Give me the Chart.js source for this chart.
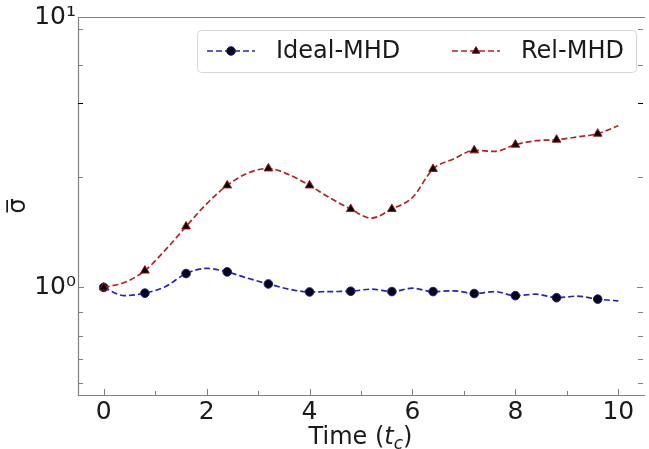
<!DOCTYPE html>
<html>
<head>
<meta charset="utf-8">
<script src="https://cdn.jsdelivr.net/npm/chart.js@4.4.1/dist/chart.umd.min.js"></script>
<style>
  html, body { margin: 0; padding: 0; background: #fff; }
  #wrap { width: 649px; height: 449px; }
</style>
</head>
<body>
<div id="wrap"><canvas id="myChart" width="649" height="449"></canvas></div>
<script>
// values
const times = [0, 0.4, 0.8, 1.2, 1.6, 2, 2.4, 2.8, 3.2, 3.6, 4, 4.4, 4.8, 5.2, 5.6, 6, 6.4, 6.8, 7.2, 7.6, 8, 8.4, 8.8, 9.2, 9.6, 10];
const idealMhd = [1.0, 0.932, 0.952, 1.007, 1.125, 1.176, 1.141, 1.081, 1.030, 0.985, 0.962, 0.965, 0.968, 0.985, 0.965, 0.993, 0.965, 0.971, 0.949, 0.965, 0.932, 0.944, 0.916, 0.928, 0.905, 0.891];
const relMhd = [1.0, 1.042, 1.154, 1.377, 1.680, 2.038, 2.383, 2.648, 2.754, 2.61, 2.383, 2.14, 1.948, 1.804, 1.948, 2.15, 2.741, 2.985, 3.212, 3.184, 3.372, 3.488, 3.518, 3.600, 3.703, 3.963];
const markerTimes = [0, 0.8, 1.6, 2.4, 3.2, 4, 4.8, 5.6, 6.4, 7.2, 8, 8.8, 9.6];
const xTickValues = [0, 1, 2, 3, 4, 5, 6, 7, 8, 9, 10];
const yTickValues = [0.442, 0.542, 0.661, 0.814, 1, 2.56, 4.81, 6.62, 9.03, 10];
const yTickLabels = { 1: '10\u2070', 10: '10\u00b9' };

const FONT = '"DejaVu Sans", sans-serif';

function toPoints(vals) {
  return times.map((t, i) => ({ x: t, y: vals[i] }));
}
function markerRadius(r) {
  return ctx => markerTimes.includes(times[ctx.dataIndex]) ? r : 0;
}

// axes spines, inward ticks, legend and titles (matplotlib look)
const decor = {
  id: 'decor',
  afterDraw(chart) {
    const ctx = chart.ctx;
    const a = chart.chartArea;
    const xs = chart.scales.x, ys = chart.scales.y;
    ctx.save();
    ctx.strokeStyle = '#808080';
    ctx.lineWidth = 1.2;
    ctx.beginPath();
    ctx.moveTo(a.left + 0.5, a.top + 0.5);
    ctx.lineTo(a.left + 0.5, a.bottom + 0.5);
    ctx.lineTo(a.right + 2, a.bottom + 0.5);
    ctx.moveTo(a.left, a.top + 0.5);
    ctx.lineTo(a.right + 2, a.top + 0.5);
    ctx.stroke();

    ctx.lineWidth = 1;
    xs.ticks.forEach(t => {
      const px = Math.round(xs.getPixelForValue(t.value)) + 0.5;
      const len = t.value % 2 === 0 ? 6 : 4;
      ctx.beginPath();
      ctx.moveTo(px, a.bottom);
      ctx.lineTo(px, a.bottom - len);
      ctx.stroke();
    });
    ys.ticks.forEach(t => {
      const py = Math.round(ys.getPixelForValue(t.value)) + 0.5;
      const len = (t.value === 1 || t.value === 10) ? 6 : 5;
      ctx.strokeStyle = t.value === 4.81 ? '#000' : '#808080';
      ctx.beginPath();
      ctx.moveTo(a.left, py);
      ctx.lineTo(a.left + len, py);
      ctx.moveTo(a.right, py);
      ctx.lineTo(a.right - len, py);
      ctx.stroke();
    });

    // legend
    ctx.fillStyle = 'rgba(255,255,255,0.8)';
    ctx.strokeStyle = '#d6d6d6';
    ctx.lineWidth = 1;
    ctx.beginPath();
    ctx.roundRect(197.5, 30.5, 439, 42, 4);
    ctx.fill();
    ctx.stroke();
    const legendX = [207, 452];
    const ly = 51;
    chart.data.datasets.forEach((ds, i) => {
      const x0 = legendX[i];
      ctx.setLineDash(ds.borderDash);
      ctx.strokeStyle = ds.borderColor;
      ctx.lineWidth = ds.borderWidth;
      ctx.beginPath();
      ctx.moveTo(x0, ly);
      ctx.lineTo(x0 + 48, ly);
      ctx.stroke();
      ctx.setLineDash([]);
      ctx.fillStyle = ds.pointBackgroundColor;
      ctx.strokeStyle = ds.pointBorderColor;
      ctx.lineWidth = 1;
      Chart.helpers.drawPoint(ctx, { pointStyle: ds.pointStyle, radius: ds.legendRadius, borderWidth: 1, rotation: 0 }, x0 + 24, ly);
      ctx.fillStyle = '#1a1a1a';
      ctx.font = '24px ' + FONT;
      ctx.textAlign = 'left';
      ctx.textBaseline = 'middle';
      ctx.fillText(ds.label, x0 + 69, ly + 1);
    });

    // x title: Time (t_c)
    const parts = [
      ['Time (', '', 24, 0],
      ['t', 'italic ', 24, 0],
      ['c', 'italic ', 17, 5],
      [')', '', 24, 0]
    ];
    let total = 0;
    parts.forEach(p => { ctx.font = p[1] + p[2] + 'px ' + FONT; total += ctx.measureText(p[0]).width; });
    let cx = (a.left + a.right) / 2 - total / 2;
    ctx.fillStyle = '#1a1a1a';
    ctx.textAlign = 'left';
    ctx.textBaseline = 'alphabetic';
    parts.forEach(p => {
      ctx.font = p[1] + p[2] + 'px ' + FONT;
      ctx.fillText(p[0], cx, 444 + p[3]);
      cx += ctx.measureText(p[0]).width;
    });

    // y title: sigma bar
    ctx.translate(19, (a.top + a.bottom) / 2);
    ctx.rotate(-Math.PI / 2);
    ctx.font = '24px ' + FONT;
    ctx.textAlign = 'center';
    ctx.textBaseline = 'middle';
    ctx.fillText('\u03c3\u0305', 0, 0);
    ctx.restore();
  }
};

new Chart(document.getElementById('myChart').getContext('2d'), {
  type: 'line',
  data: {
    datasets: [{
      label: 'Ideal-MHD',
      data: toPoints(idealMhd),
      borderColor: '#2424c4',
      borderWidth: 1.7,
      borderDash: [6, 3],
      pointStyle: 'circle',
      pointRadius: markerRadius(4.3),
      legendRadius: 4.3,
      pointBackgroundColor: '#05051a',
      pointBorderColor: '#1c1c8a',
      pointBorderWidth: 1,
      cubicInterpolationMode: 'monotone',
      fill: false,
      order: 2
    }, {
      label: 'Rel-MHD',
      data: toPoints(relMhd),
      borderColor: '#b22222',
      borderWidth: 1.7,
      borderDash: [6, 3],
      pointStyle: 'triangle',
      pointRadius: markerRadius(5),
      legendRadius: 4.5,
      pointBackgroundColor: '#000000',
      pointBorderColor: '#a01818',
      pointBorderWidth: 1,
      cubicInterpolationMode: 'monotone',
      fill: false,
      order: 1
    }]
  },
  options: {
    responsive: false,
    animation: false,
    events: [],
    layout: { padding: { top: 17, right: 0, left: 0, bottom: 0 } },
    plugins: {
      legend: { display: false },
      tooltip: { enabled: false }
    },
    scales: {
      x: {
        type: 'linear',
        min: -0.5,
        max: 10.48,
        afterFit: s => { s.height = 54; },
        afterBuildTicks: s => { s.ticks = xTickValues.map(v => ({ value: v })); },
        grid: { display: false, drawTicks: false },
        border: { display: false },
        ticks: {
          autoSkip: false,
          maxRotation: 0,
          padding: 2,
          color: '#1a1a1a',
          font: { family: FONT, size: 25 },
          callback: v => (v % 2 === 0 ? String(v) : '')
        }
      },
      y: {
        type: 'logarithmic',
        min: 0.4,
        max: 10,
        afterFit: s => { s.width = 78; },
        afterBuildTicks: s => { s.ticks = yTickValues.map(v => ({ value: v })); },
        grid: { display: false, drawTicks: false },
        border: { display: false },
        ticks: {
          autoSkip: false,
          padding: 2,
          color: '#1a1a1a',
          font: { family: FONT, size: 25 },
          callback: v => yTickLabels[v] || ''
        }
      }
    }
  },
  plugins: [decor]
});
</script>
</body>
</html>
